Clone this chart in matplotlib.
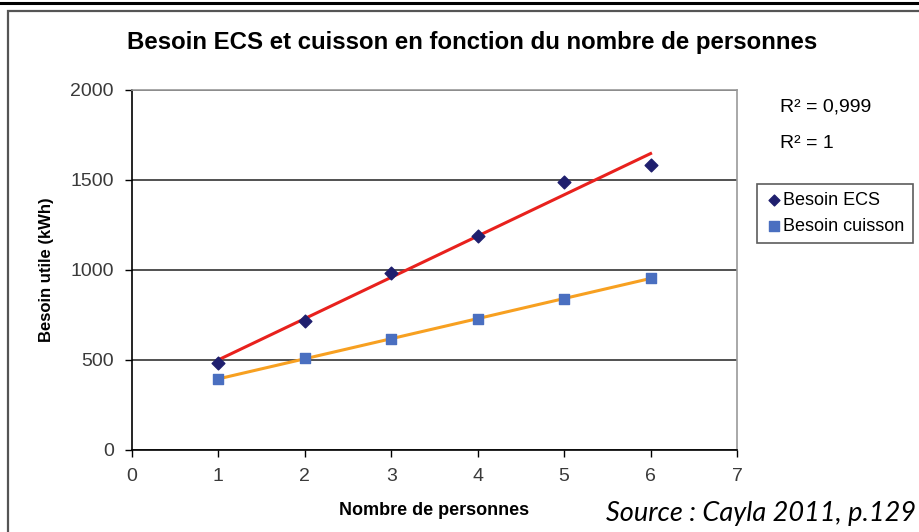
import numpy as np
import matplotlib
matplotlib.use("Agg")
import matplotlib.pyplot as plt
from matplotlib.lines import Line2D
from matplotlib.patches import Rectangle

plt.rcParams['font.family'] = ['Liberation Sans', 'DejaVu Sans']

# Besoins annuels (kWh) selon le nombre de personnes du foyer
personnes = [1, 2, 3, 4, 5, 6]
besoin_ecs = [483, 717, 983, 1189, 1489, 1583]
besoin_cuisson = [394, 511, 617, 728, 839, 956]
r2_labels = ["R² = 0,999", "R² = 1"]

fig = plt.figure(figsize=(9.2, 5.32), dpi=100)
ax = fig.add_axes([132 / 920, 82 / 532, 605 / 920, 360 / 532])

# cadre du graphique et filet en haut de page
fig.add_artist(Line2D([0, 1], [1 - 2.5 / 532] * 2, color='black', lw=2.2,
                      transform=fig.transFigure))
fig.add_artist(Rectangle((8 / 920, -0.05), 1.0, 1 - 10.5 / 532 + 0.05,
                         transform=fig.transFigure, fill=False,
                         edgecolor='#555555', lw=1.6))

# droites de tendance linéaires
x = np.array(personnes)
for y, col in [(besoin_ecs, '#E8211D'), (besoin_cuisson, '#F7A021')]:
    a, b = np.polyfit(x, y, 1)
    ax.plot(x, a * x + b, color=col, lw=2.2, zorder=2)

ax.scatter(personnes, besoin_ecs, marker='D', s=42, color='#1F1F6E',
           zorder=3, label='Besoin ECS')
ax.scatter(personnes, besoin_cuisson, marker='s', s=62, color='#4A6FC0',
           zorder=3, label='Besoin cuisson')

ax.set_xlim(0, 7)
ax.set_ylim(0, 2000)
ax.set_xticks(range(0, 8))
ax.set_yticks([0, 500, 1000, 1500, 2000])
ax.yaxis.grid(True, color='#333333', lw=1.2)
ax.set_axisbelow(True)

for side in ['top', 'right']:
    ax.spines[side].set_color('#999999')
    ax.spines[side].set_linewidth(1.2)
for side in ['left', 'bottom']:
    ax.spines[side].set_color('black')
    ax.spines[side].set_linewidth(1.2)

ax.tick_params(axis='both', direction='out', length=5, width=1,
               labelsize=14, labelcolor='#3a3a3a')
ax.tick_params(axis='x', pad=8)
ax.tick_params(axis='y', pad=8)

ax.set_xlabel('Nombre de personnes', fontsize=13, fontweight='bold',
              labelpad=12)
ax.set_ylabel('Besoin utile (kWh)', fontsize=12, fontweight='bold',
              labelpad=12)
fig.text(472 / 920, 1 - 42 / 532,
         'Besoin ECS et cuisson en fonction du nombre de personnes',
         ha='center', va='center', fontsize=17.3, fontweight='bold')

# coefficients de détermination
fig.text(780 / 920, 1 - 107 / 532, r2_labels[0], fontsize=14, va='center')
fig.text(780 / 920, 1 - 143 / 532, r2_labels[1], fontsize=14, va='center')

leg = fig.legend(loc='upper left', bbox_to_anchor=(757 / 920, 1 - 184 / 532),
                 fontsize=13, frameon=True, fancybox=False,
                 handletextpad=0.0, handlelength=1.0, borderpad=0.45,
                 labelspacing=0.5, borderaxespad=0, markerscale=0.85)
leg.get_frame().set_edgecolor('#333333')
leg.get_frame().set_linewidth(1.2)

fig.text(916 / 920, 1 - 513 / 532, 'Source : Cayla 2011, p.129',
         ha='right', va='center', fontsize=19.5, style='italic',
         family=['Lato', 'DejaVu Sans'])

fig.savefig('out.png', dpi=100)
